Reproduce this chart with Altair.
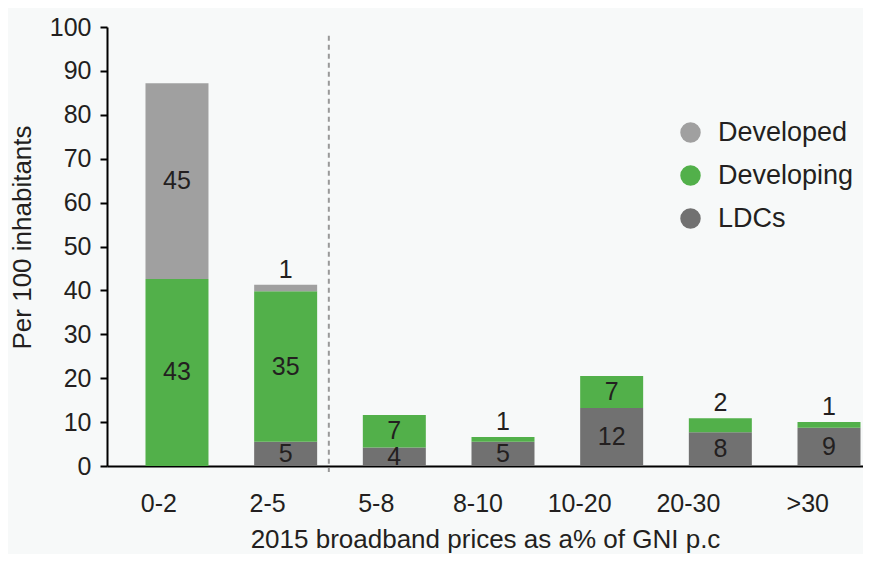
import altair as alt
import pandas as pd

categories = ["0-2", "2-5", "5-8", "8-10", "10-20", "20-30", ">30"]
groups = ["LDCs", "Developing", "Developed"]
colors = ["#717171", "#52b04a", "#a0a0a0"]

# bar segment heights
ldcs = [0, 5.5, 4.2, 5.5, 13.2, 7.7, 8.7]
developing = [42.6, 34.3, 7.4, 1.1, 7.3, 3.2, 1.3]
developed = [44.6, 1.5, 0, 0, 0, 0, 0]

# printed labels
ldcs_lbl = ["", "5", "4", "5", "12", "8", "9"]
developing_lbl = ["43", "35", "7", "1", "7", "2", "1"]
developed_lbl = ["45", "1", "", "", "", "", ""]

rows = []
for gi, (g, vals, lbls) in enumerate(zip(groups, [ldcs, developing, developed],
                                         [ldcs_lbl, developing_lbl, developed_lbl])):
    for c, v, l in zip(categories, vals, lbls):
        if v > 0:
            rows.append({"cat": c, "group": g, "order": gi, "value": v, "label": l})
df = pd.DataFrame(rows)

FONT = "Liberation Sans"
TXT = "#231f20"

xscale = alt.Scale(domain=categories, paddingInner=0.4203, paddingOuter=0.1886, align=0.939)
yscale = alt.Scale(domain=[0, 100], nice=False)

base = alt.Chart(df).transform_stack(
    stack="value", as_=["v0", "v1"], groupby=["cat"], sort=[alt.SortField("order")]
)

bars = base.mark_bar().encode(
    x=alt.X("cat:N", scale=xscale, sort=categories,
            axis=alt.Axis(title="2015 broadband prices as a% of GNI p.c", labelAngle=0,
                          ticks=False, labelPadding=37, titlePadding=10,
                          domainColor="#000000", domainWidth=2,
                          labelFontSize=25, titleFontSize=26, labelColor=TXT, titleColor=TXT,
                          labelFont=FONT, titleFont=FONT, titleFontWeight="normal")),
    y=alt.Y("v0:Q", scale=yscale,
            axis=alt.Axis(title="Per 100 inhabitants", values=list(range(0, 101, 10)),
                          grid=False, tickSize=7, tickWidth=2, tickColor="#000000",
                          domainColor="#000000", domainWidth=2, labelPadding=9,
                          titlePadding=14, labelFontSize=25, titleFontSize=26,
                          titleY=210, titleAnchor="middle",
                          labelColor=TXT, titleColor=TXT, labelFont=FONT, titleFont=FONT,
                          titleFontWeight="normal")),
    y2="v1:Q",
    color=alt.Color("group:N", scale=alt.Scale(domain=groups[::-1], range=colors[::-1]),
                    legend=alt.Legend(title=None, orient="none", legendX=570, legendY=92,
                                      symbolType="circle", symbolSize=420, symbolStrokeWidth=0,
                                      symbolOpacity=1, labelFontSize=27, labelFont=FONT,
                                      labelColor=TXT, labelOffset=14, rowPadding=15,
                                      padding=0)),
)

inside = base.transform_filter("datum.value >= 3.5").transform_calculate(
    mid="(datum.v0 + datum.v1) / 2"
).mark_text(font=FONT, fontSize=25, color=TXT, baseline="middle").encode(
    x=alt.X("cat:N", scale=xscale, sort=categories),
    y=alt.Y("mid:Q", scale=yscale),
    text="label:N",
)

above = base.transform_filter("datum.value < 3.5").mark_text(
    font=FONT, fontSize=25, color=TXT, baseline="bottom", dy=-2
).encode(
    x=alt.X("cat:N", scale=xscale, sort=categories),
    y=alt.Y("v1:Q", scale=yscale),
    text="label:N",
)

divider_df = pd.DataFrame({"cat": ["5-8"], "top": [98]})
divider = alt.Chart(divider_df).mark_rule(
    color="#999999", strokeDash=[5, 4], strokeWidth=2, xOffset=-34
).encode(
    x=alt.X("cat:N", scale=xscale, sort=categories, bandPosition=0),
    y=alt.Y("top:Q", scale=yscale),
    y2=alt.value(445),
)

chart = alt.layer(divider, bars, inside, above).properties(
    width=756, height=439,
    background="#f7f9f9",
    padding={"left": 99, "top": 19, "right": 0, "bottom": 88},
    autosize=alt.AutoSizeParams(type="none"),
).configure_view(stroke=None)

chart.save("out.html", embed_options={"renderer": "svg", "actions": False})
